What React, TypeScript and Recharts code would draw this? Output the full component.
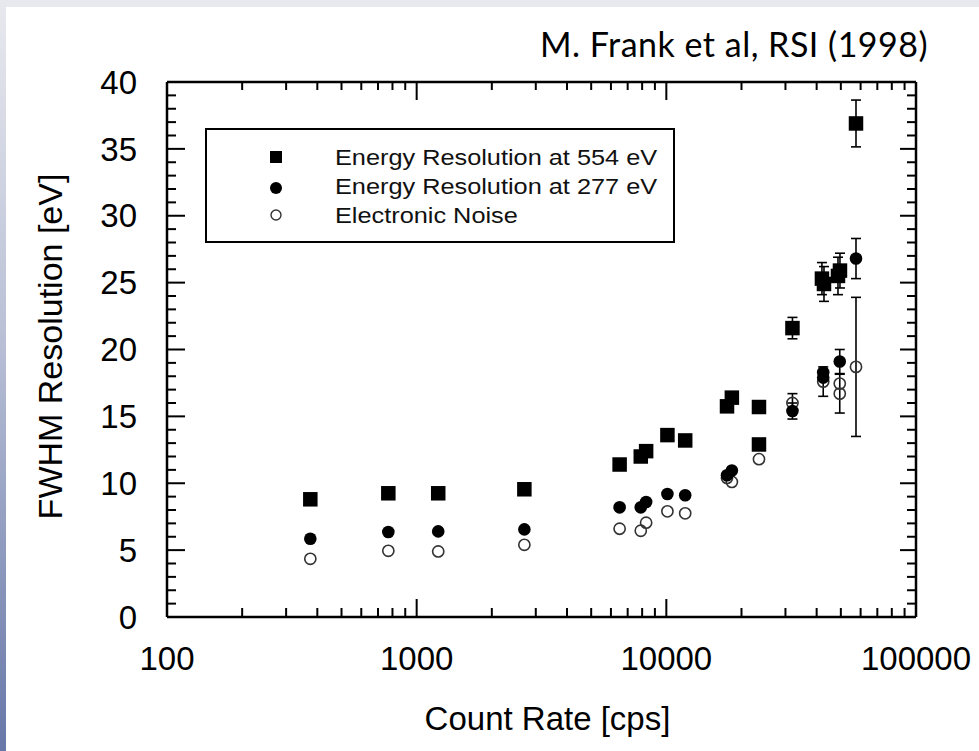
import React from "react";
import { ScatterChart, Scatter, XAxis, YAxis, ErrorBar, Legend, Label } from "recharts";

// Energy resolution at 554 eV (filled squares)
const countRate554 = [375, 770, 1220, 2700, 6500, 7900, 8300, 10100, 11900, 17500, 18300, 23500, 23500, 32000, 42000, 42800, 48700, 49600, 57500];
const fwhm554 = [8.8, 9.25, 9.25, 9.55, 11.4, 12.0, 12.4, 13.6, 13.2, 15.75, 16.4, 15.7, 12.9, 21.6, 25.3, 24.9, 25.5, 25.9, 36.9];
const err554 = [0, 0, 0, 0, 0, 0, 0, 0, 0, 0, 0, 0, 0, 0.8, 1.2, 1.3, 1.4, 1.3, 1.75];

// Energy resolution at 277 eV (filled circles)
const countRate277 = [375, 770, 1220, 2700, 6500, 7900, 8300, 10100, 11900, 17500, 18300, 32000, 42500, 42500, 49500, 57500];
const fwhm277 = [5.85, 6.35, 6.4, 6.55, 8.2, 8.2, 8.6, 9.2, 9.1, 10.6, 10.95, 15.4, 18.3, 17.9, 19.1, 26.8];
const err277 = [0, 0, 0, 0, 0, 0, 0, 0, 0, 0, 0, 0.6, 0, 0, 0.9, 1.5];

// Electronic noise (open circles)
const countRateNoise = [375, 770, 1220, 2700, 6500, 7900, 8300, 10100, 11900, 17500, 18300, 23500, 32000, 42500, 49500, 49500, 57500];
const fwhmNoise = [4.35, 4.95, 4.9, 5.4, 6.6, 6.45, 7.05, 7.9, 7.75, 10.4, 10.1, 11.8, 16.0, 17.6, 17.45, 16.7, 18.7];
const errNoise = [0, 0, 0, 0, 0, 0, 0, 0, 0, 0, 0, 0, 0.7, 1.1, 0, 1.45, 5.2];

const seriesNames = ["Energy Resolution at 554 eV", "Energy Resolution at 277 eV", "Electronic Noise"];

const xMajorTicks = [100, 1000, 10000, 100000];
const xMinorTicks = [200, 300, 400, 500, 600, 700, 800, 900, 2000, 3000, 4000, 5000, 6000, 7000, 8000, 9000, 20000, 30000, 40000, 50000, 60000, 70000, 80000, 90000];
const yMajorTicks = [0, 5, 10, 15, 20, 25, 30, 35, 40];
const yMinorTicks = [1, 2, 3, 4, 6, 7, 8, 9, 11, 12, 13, 14, 16, 17, 18, 19, 21, 22, 23, 24, 26, 27, 28, 29, 31, 32, 33, 34, 36, 37, 38, 39];

const FONT = "'Liberation Sans', Arial, Helvetica, sans-serif";

const toPoints = (xs: number[], ys: number[], es: number[]) =>
  xs.map((x, i) => ({ x, y: ys[i], err: es[i] }));

const data554 = toPoints(countRate554, fwhm554, err554);
const data277 = toPoints(countRate277, fwhm277, err277);
const dataNoise = toPoints(countRateNoise, fwhmNoise, errNoise);

function SquareMark(props: any) {
  const { cx, cy } = props;
  if (cx == null || cy == null) return null;
  return <rect x={cx - 7.25} y={cy - 7.25} width={14.5} height={14.5} fill="#000" />;
}

function DotMark(props: any) {
  const { cx, cy } = props;
  if (cx == null || cy == null) return null;
  return <circle cx={cx} cy={cy} r={6.3} fill="#000" />;
}

function OpenMark(props: any) {
  const { cx, cy } = props;
  if (cx == null || cy == null) return null;
  return <circle cx={cx} cy={cy} r={5.6} fill="none" stroke="#333" strokeWidth={1.6} />;
}

const NoMark = () => <g />;
const NoLabel = () => <g />;

function LegendBox() {
  const rows = [
    { name: seriesNames[0], cy: 26.7, top: 17.4, mark: <rect x={1} y={1} width={12} height={12} fill="#000" /> },
    { name: seriesNames[1], cy: 57.7, top: 46.4, mark: <circle cx={7} cy={7} r={6} fill="#000" /> },
    { name: seriesNames[2], cy: 85, top: 74.7, mark: <circle cx={7} cy={7} r={5} fill="none" stroke="#333" strokeWidth={1.4} /> },
  ];
  return (
    <div
      style={{
        position: "relative",
        width: 470,
        height: 115,
        border: "2px solid #000",
        boxSizing: "border-box",
        background: "#fff",
        fontFamily: FONT,
      }}
    >
      {rows.map((r) => (
        <React.Fragment key={r.name}>
          <svg width={14} height={14} style={{ position: "absolute", left: 62, top: r.cy - 7 }}>
            {r.mark}
          </svg>
          <div
            style={{
              position: "absolute",
              left: 128,
              top: r.top,
              fontSize: 22,
              lineHeight: "22px",
              color: "#111",
              whiteSpace: "nowrap",
              transform: "scaleX(1.15)",
              transformOrigin: "left center",
            }}
          >
            {r.name}
          </div>
        </React.Fragment>
      ))}
    </div>
  );
}

const tickFont = { fontSize: 33, fill: "#000", fontFamily: FONT };
const frame = { stroke: "#000", strokeWidth: 2.5 };
const tickStroke = { stroke: "#000", strokeWidth: 2 };
// mirrored tick-only axes need a non-zero size or they are not drawn
const THIN = 0.01;

export default function App() {
  return (
    <div style={{ position: "absolute", left: 0, top: 0, width: 979, height: 751, background: "#fff", overflow: "hidden" }}>
      <div style={{ position: "absolute", left: 0, top: 0, width: 979, height: 7, background: "#e8e9ee" }} />
      <div
        style={{
          position: "absolute",
          left: 0,
          top: 0,
          width: 6,
          height: 751,
          background: "linear-gradient(to bottom, #e8e9ee 0%, #b9c0d6 45%, #6777a8 100%)",
        }}
      />
      <div
        style={{
          position: "absolute",
          left: 540,
          top: 27,
          fontFamily: "Lato, 'Open Sans', sans-serif",
          fontSize: 34,
          lineHeight: "34px",
          letterSpacing: 0.5,
          color: "#000",
          whiteSpace: "nowrap",
        }}
      >
        M. Frank et al, RSI (1998)
      </div>
      <div style={{ position: "absolute", left: 0, top: 0 }}>
        <ScatterChart width={979} height={751} margin={{ top: 82, right: 63, bottom: 0, left: 0 }}>
          {/* main axes with labels */}
          <XAxis
            xAxisId="x"
            type="number"
            dataKey="x"
            scale="log"
            domain={[100, 100000]}
            allowDataOverflow
            ticks={xMajorTicks}
            interval={0}
            tickLine={false}
            tickSize={0}
            tickMargin={30}
            height={134}
            axisLine={frame}
            tick={tickFont}
          >
            <Label
              content={(p: any) => {
                const vb = p.viewBox || { x: 167, y: 617, width: 749 };
                return (
                  <text x={vb.x + vb.width / 2 + 6} y={vb.y + 113} textAnchor="middle" fontSize={33} fontFamily={FONT} fill="#000">
                    Count Rate [cps]
                  </text>
                );
              }}
            />
          </XAxis>
          <YAxis
            yAxisId="y"
            type="number"
            dataKey="y"
            domain={[0, 40]}
            allowDataOverflow
            ticks={yMajorTicks}
            interval={0}
            tickLine={false}
            tickSize={0}
            tickMargin={30}
            width={167}
            axisLine={frame}
            tick={tickFont}
          >
            <Label
              content={(p: any) => {
                const vb = p.viewBox || { x: 0, y: 82, height: 535 };
                const cx = vb.x + 62;
                const cy = vb.y + vb.height / 2 - 3;
                return (
                  <text x={cx} y={cy} transform={`rotate(-90, ${cx}, ${cy})`} textAnchor="middle" fontSize={34} fontFamily={FONT} fill="#000">
                    FWHM Resolution [eV]
                  </text>
                );
              }}
            />
          </YAxis>

          {/* inward tick marks on all four sides */}
          <XAxis xAxisId="bMaj" dataKey="x" type="number" scale="log" domain={[100, 100000]} allowDataOverflow orientation="bottom" mirror height={THIN} ticks={xMajorTicks} interval={0} tick={NoLabel} tickSize={18} tickLine={tickStroke} axisLine={false} />
          <XAxis xAxisId="bMin" dataKey="x" type="number" scale="log" domain={[100, 100000]} allowDataOverflow orientation="bottom" mirror height={THIN} ticks={xMinorTicks} interval={0} tick={NoLabel} tickSize={9} tickLine={tickStroke} axisLine={false} />
          <XAxis xAxisId="tMaj" dataKey="x" type="number" scale="log" domain={[100, 100000]} allowDataOverflow orientation="top" mirror height={THIN} ticks={xMajorTicks} interval={0} tick={NoLabel} tickSize={18} tickLine={tickStroke} axisLine={frame} />
          <XAxis xAxisId="tMin" dataKey="x" type="number" scale="log" domain={[100, 100000]} allowDataOverflow orientation="top" mirror height={THIN} ticks={xMinorTicks} interval={0} tick={NoLabel} tickSize={8} tickLine={tickStroke} axisLine={false} />
          <YAxis yAxisId="lMaj" dataKey="y" type="number" domain={[0, 40]} allowDataOverflow orientation="left" mirror width={THIN} ticks={yMajorTicks} interval={0} tick={NoLabel} tickSize={18} tickLine={tickStroke} axisLine={false} />
          <YAxis yAxisId="lMin" dataKey="y" type="number" domain={[0, 40]} allowDataOverflow orientation="left" mirror width={THIN} ticks={yMinorTicks} interval={0} tick={NoLabel} tickSize={9} tickLine={tickStroke} axisLine={false} />
          <YAxis yAxisId="rMaj" dataKey="y" type="number" domain={[0, 40]} allowDataOverflow orientation="right" mirror width={THIN} ticks={yMajorTicks} interval={0} tick={NoLabel} tickSize={16} tickLine={tickStroke} axisLine={frame} />
          <YAxis yAxisId="rMin" dataKey="y" type="number" domain={[0, 40]} allowDataOverflow orientation="right" mirror width={THIN} ticks={yMinorTicks} interval={0} tick={NoLabel} tickSize={9} tickLine={tickStroke} axisLine={false} />

          {/* invisible series binding the tick axes to data so their scales resolve */}
          <Scatter data={data554} xAxisId="bMaj" yAxisId="lMaj" shape={NoMark} legendType="none" isAnimationActive={false} />
          <Scatter data={data554} xAxisId="bMin" yAxisId="lMin" shape={NoMark} legendType="none" isAnimationActive={false} />
          <Scatter data={data554} xAxisId="tMaj" yAxisId="rMaj" shape={NoMark} legendType="none" isAnimationActive={false} />
          <Scatter data={data554} xAxisId="tMin" yAxisId="rMin" shape={NoMark} legendType="none" isAnimationActive={false} />

          <Legend
            layout="vertical"
            align="center"
            verticalAlign="middle"
            wrapperStyle={{ left: 205, top: 128, width: 470, height: 115 }}
            content={() => <LegendBox />}
          />

          <Scatter name={seriesNames[2]} data={dataNoise} xAxisId="x" yAxisId="y" shape={OpenMark} isAnimationActive={false}>
            <ErrorBar dataKey="err" direction="y" width={5} stroke="#000" strokeWidth={1.6} />
          </Scatter>
          <Scatter name={seriesNames[1]} data={data277} xAxisId="x" yAxisId="y" shape={DotMark} isAnimationActive={false}>
            <ErrorBar dataKey="err" direction="y" width={5} stroke="#000" strokeWidth={1.6} />
          </Scatter>
          <Scatter name={seriesNames[0]} data={data554} xAxisId="x" yAxisId="y" shape={SquareMark} isAnimationActive={false}>
            <ErrorBar dataKey="err" direction="y" width={5} stroke="#000" strokeWidth={1.6} />
          </Scatter>
        </ScatterChart>
      </div>
    </div>
  );
}
